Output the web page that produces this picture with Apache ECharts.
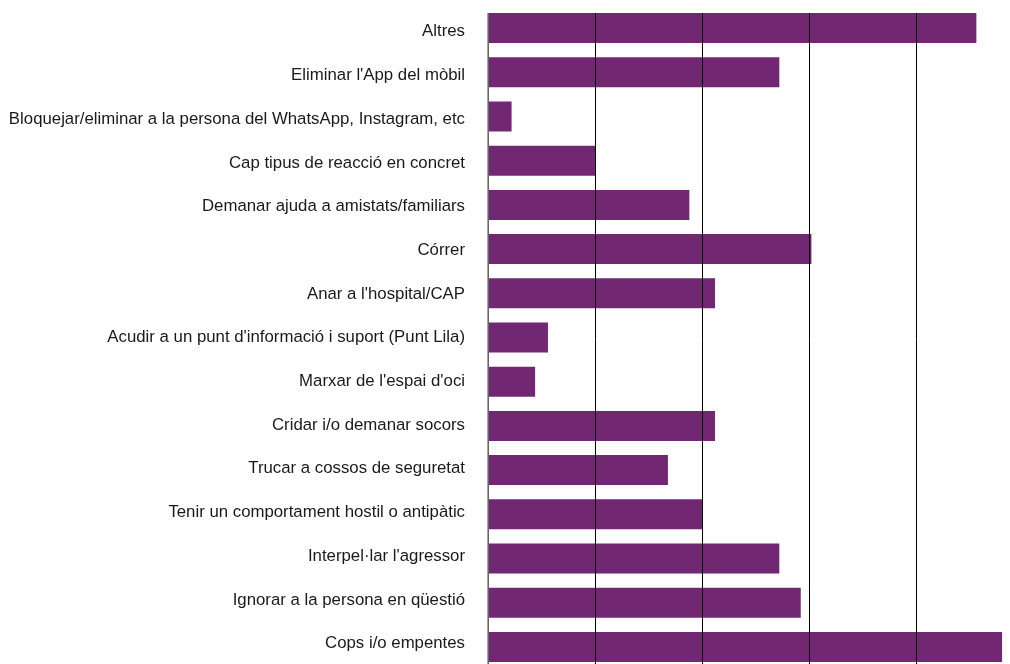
<!DOCTYPE html>
<html>
<head>
<meta charset="utf-8">
<script src="https://cdn.jsdelivr.net/npm/echarts@6/dist/echarts.min.js"></script>
<style>
  html, body { margin: 0; padding: 0; background: #fff; }
  #chart { width: 1010px; height: 664px; }
</style>
</head>
<body>
<div id="chart"></div>
<script>
// categories, top to bottom
const categories = [
  "Altres",
  "Eliminar l'App del mòbil",
  "Bloquejar/eliminar a la persona del WhatsApp, Instagram, etc",
  "Cap tipus de reacció en concret",
  "Demanar ajuda a amistats/familiars",
  "Córrer",
  "Anar a l'hospital/CAP",
  "Acudir a un punt d'informació i suport (Punt Lila)",
  "Marxar de l'espai d'oci",
  "Cridar i/o demanar socors",
  "Trucar a cossos de seguretat",
  "Tenir un comportament hostil o antipàtic",
  "Interpel·lar l'agressor",
  "Ignorar a la persona en qüestió",
  "Cops i/o empentes"
];
const values = [22.8, 13.6, 1.1, 5.0, 9.4, 15.1, 10.6, 2.8, 2.2, 10.6, 8.4, 10.0, 13.6, 14.6, 24.0];
const xMax = 25;
const xStep = 5;

const myChart = echarts.init(document.getElementById('chart'));
const hiddenValueX = (gi) => ({
  type: 'value', gridIndex: gi, min: 0, max: xMax, interval: xStep, show: false
});
const option = {
  animation: false,
  grid: [
    // bars
    { left: 488, top: 6, width: 535.5, height: 663, outerBoundsMode: 'none', containLabel: false },
    // category labels
    { left: 488, top: 10, width: 535.5, height: 655.5, outerBoundsMode: 'none', containLabel: false },
    // vertical lines, drawn over the bars
    { left: 488, top: 13.5, width: 535.5, height: 660, outerBoundsMode: 'none', containLabel: false }
  ],
  xAxis: [
    hiddenValueX(0),
    hiddenValueX(1),
    {
      type: 'value', gridIndex: 2, min: 0, max: xMax, interval: xStep,
      z: 5,
      axisLabel: { show: false },
      axisLine: { show: false },
      axisTick: { show: false },
      splitLine: { show: true, lineStyle: { color: '#000', width: 1 } }
    }
  ],
  yAxis: [
    { type: 'category', gridIndex: 0, inverse: true, data: categories, show: false },
    {
      type: 'category', gridIndex: 1, inverse: true, data: categories,
      axisLine: { show: false },
      axisTick: { show: false },
      axisLabel: {
        margin: 23,
        color: '#1a1a1a',
        fontSize: 16.8,
        fontFamily: 'Liberation Sans'
      }
    },
    {
      type: 'value', gridIndex: 2, min: 0, max: 1,
      z: 5,
      axisLine: { show: true, lineStyle: { color: '#888', width: 1.5 } },
      axisTick: { show: false },
      axisLabel: { show: false },
      splitLine: { show: false }
    }
  ],
  series: [
    {
      type: 'bar',
      xAxisIndex: 0,
      yAxisIndex: 0,
      data: values,
      barWidth: 30,
      itemStyle: { color: '#722773' }
    }
  ]
};
option && myChart.setOption(option);
</script>
</body>
</html>
